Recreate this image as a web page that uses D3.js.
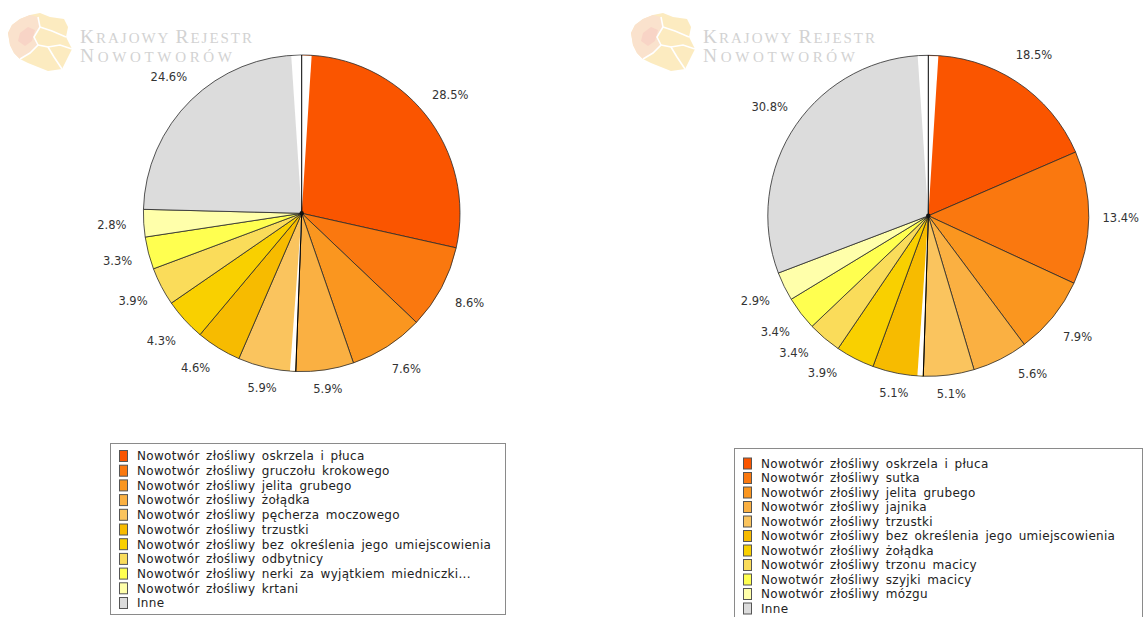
<!DOCTYPE html>
<html><head><meta charset="utf-8">
<script src="https://cdn.jsdelivr.net/npm/d3@7"></script>
<style>body{margin:0;background:#fff;overflow:hidden}</style>
</head><body>
<svg id="c" width="1145" height="617"></svg>
<script>
// ---- data ----
const leftCategories = [
  "Nowotwór złośliwy oskrzela i płuca",
  "Nowotwór złośliwy gruczołu krokowego",
  "Nowotwór złośliwy jelita grubego",
  "Nowotwór złośliwy żołądka",
  "Nowotwór złośliwy pęcherza moczowego",
  "Nowotwór złośliwy trzustki",
  "Nowotwór złośliwy bez określenia jego umiejscowienia",
  "Nowotwór złośliwy odbytnicy",
  "Nowotwór złośliwy nerki za wyjątkiem miedniczki...",
  "Nowotwór złośliwy krtani",
  "Inne"
];
const leftValues = [28.5, 8.6, 7.6, 5.9, 5.9, 4.6, 4.3, 3.9, 3.3, 2.8, 24.6];

const rightCategories = [
  "Nowotwór złośliwy oskrzela i płuca",
  "Nowotwór złośliwy sutka",
  "Nowotwór złośliwy jelita grubego",
  "Nowotwór złośliwy jajnika",
  "Nowotwór złośliwy trzustki",
  "Nowotwór złośliwy bez określenia jego umiejscowienia",
  "Nowotwór złośliwy żołądka",
  "Nowotwór złośliwy trzonu macicy",
  "Nowotwór złośliwy szyjki macicy",
  "Nowotwór złośliwy mózgu",
  "Inne"
];
const rightValues = [18.5, 13.4, 7.9, 5.6, 5.1, 5.1, 3.9, 3.4, 3.4, 2.9, 30.8];

const sliceColors = ["#fa5500","#fa780f","#fa961f","#fab042","#fac45e","#f7bb00","#f9d000","#fadc5a","#ffff50","#ffffaa","#dcdcdc"];

const watermarkLines = ["Krajowy Rejestr", "Nowotworów"];

// ---- drawing ----
const svg = d3.select("#c");
const deg = Math.PI / 180;

function drawWatermark(x, y) {
  const g = svg.append("g").attr("transform", `translate(${x},${y})`).attr("opacity", 0.7);
  const outline = [[22,2],[32,0],[42,4],[56,6],[60,14],[58,24],[64,36],[60,44],[54,56],[40,58],[30,54],[20,50],[12,46],[6,40],[2,32],[0,20],[4,12],[12,6]];
  const pink = [[4,12],[12,6],[22,2],[30,4],[32,14],[26,24],[30,32],[22,40],[12,46],[6,40],[2,32],[0,20]];
  const lin = d3.line();
  g.append("path").attr("d", lin(outline) + "Z").attr("fill", "#fbe3a6");
  g.append("path").attr("d", lin(pink) + "Z").attr("fill", "#f9d6b8");
  g.append("path").attr("d", lin([[12,20],[20,14],[27,17],[24,28],[17,33],[10,28]]) + "Z").attr("fill", "#f6c2ae");
  [[[30,4],[32,14],[26,24],[30,32],[22,40],[12,46]],
   [[32,14],[44,18],[58,24]],
   [[30,32],[40,34],[46,44],[54,56]],
   [[40,34],[52,32],[64,36]]].forEach(p =>
    g.append("path").attr("d", lin(p)).attr("fill","none").attr("stroke","#fff").attr("stroke-width",1.6));
  const t = svg.append("g").attr("font-family","Liberation Serif, serif").attr("fill","#d2d2d2");
  const lens = [172, 152];
  watermarkLines.forEach((ln, i) => {
    const tx = t.append("text").attr("x", x + 72).attr("y", y + 30 + i * 19)
      .attr("textLength", lens[i]).attr("lengthAdjust", "spacing");
    ln.split(" ").forEach((w, j) => {
      if (j > 0) tx.append("tspan").attr("font-size", 15).text(" ");
      tx.append("tspan").attr("font-size", 19.5).text(w[0].toUpperCase());
      tx.append("tspan").attr("font-size", 15).text(w.slice(1).toUpperCase());
    });
  });
}

function drawPanel(cfg, cats, vals) {
  const g = svg.append("g");
  const pieData = d3.pie().sort(null).value(d => d)(vals);
  const arc = d3.arc().innerRadius(0).outerRadius(cfg.r);
  const color = d3.scaleOrdinal().domain(cats).range(sliceColors);
  const pg = g.append("g").attr("transform", `translate(${cfg.cx},${cfg.cy})`);
  pg.selectAll("path.slice").data(pieData).join("path")
    .attr("class", "slice")
    .attr("d", arc)
    .attr("fill", (d, i) => color(cats[i]))
    .attr("stroke", "#2a2a2a").attr("stroke-width", 0.8).attr("stroke-linejoin", "round");

  // rendering seams of the original (white slivers at top and near bottom boundary)
  const seam = d3.arc().innerRadius(0).outerRadius(cfg.r - 0.6);
  pg.append("path").attr("d", seam({startAngle: -3.8 * deg, endAngle: 3.6 * deg})).attr("fill", "#fff");
  let bIdx = 0;
  pieData.forEach((d, i) => { if (Math.abs(d.endAngle - Math.PI) < Math.abs(pieData[bIdx].endAngle - Math.PI)) bIdx = i; });
  const b = pieData[bIdx].endAngle;
  pg.append("path").attr("d", seam({startAngle: b + 0.2 * deg, endAngle: b + 2.1 * deg})).attr("fill", "#fff");
  [0, b].forEach(a => pg.append("line")
    .attr("x1", 0).attr("y1", 0)
    .attr("x2", Math.sin(a) * cfg.r).attr("y2", -Math.cos(a) * cfg.r)
    .attr("stroke", "#000").attr("stroke-width", 1));
  pg.append("circle").attr("r", 2.2).attr("fill", "#111");

  // labels: placed around the pie, then pushed apart vertically on each side
  const fmt = d3.format(".1f");
  const pos = th => {
    const c = Math.cos(th);
    const D = cfg.r + 32 - 14 * Math.pow(Math.max(0, -c), 8);
    return [cfg.cx + D * Math.sin(th), cfg.cy - D * c];
  };
  const labels = pieData.map((d, i) => {
    const th = (d.startAngle + d.endAngle) / 2;
    const [x, y] = pos(th);
    return {i, th, x, y, side: th < Math.PI ? 1 : -1};
  });
  const minGap = 20;
  [1, -1].forEach(side => {
    const L = labels.filter(l => l.side === side && l.y > cfg.cy).sort((a, b) => b.y - a.y);
    for (let k = 1; k < L.length; k++) {
      const lim = L[k - 1].y - minGap;
      let guard = 0;
      while (L[k].y > lim && guard++ < 400) {
        L[k].th += side * -0.2 * deg;
        [L[k].x, L[k].y] = pos(L[k].th);
      }
    }
  });
  labels.forEach(l => {
    g.append("text").text(fmt(vals[l.i]) + "%")
      .attr("font-family", "DejaVu Sans, sans-serif").attr("font-size", 11.5)
      .attr("fill", "#333").attr("text-anchor", "middle")
      .attr("x", l.x).attr("y", l.y + 4.2);
  });

  // legend
  const L = cfg.legend;
  g.append("rect").attr("x", L.x + 0.5).attr("y", L.y + 0.5).attr("width", L.w).attr("height", L.h)
    .attr("fill", "#fff").attr("stroke", "#8a8a8a").attr("stroke-width", 1);
  cats.forEach((c, i) => {
    const cy = L.first + i * L.step;
    g.append("rect").attr("x", L.x + 9.5).attr("y", cy - 5.5).attr("width", 8).attr("height", 11)
      .attr("fill", color(c)).attr("stroke", "#555").attr("stroke-width", 1);
    g.append("text").attr("x", L.x + 27).attr("y", cy + 4.3)
      .attr("font-family", "DejaVu Sans, sans-serif").attr("font-size", 12)
      .attr("letter-spacing", 0.3).attr("word-spacing", 2.3)
      .attr("fill", "#222").text(c);
  });
}

drawWatermark(8, 13);
drawWatermark(631, 13);

drawPanel({cx: 301.7, cy: 213.3, r: 158.3,
  legend: {x: 110, y: 443, w: 395, h: 171, first: 456, step: 14.7}}, leftCategories, leftValues);
drawPanel({cx: 928.3, cy: 215.8, r: 160.5,
  legend: {x: 734, y: 448, w: 408, h: 175, first: 463.5, step: 14.5}}, rightCategories, rightValues);
</script>
</body></html>
